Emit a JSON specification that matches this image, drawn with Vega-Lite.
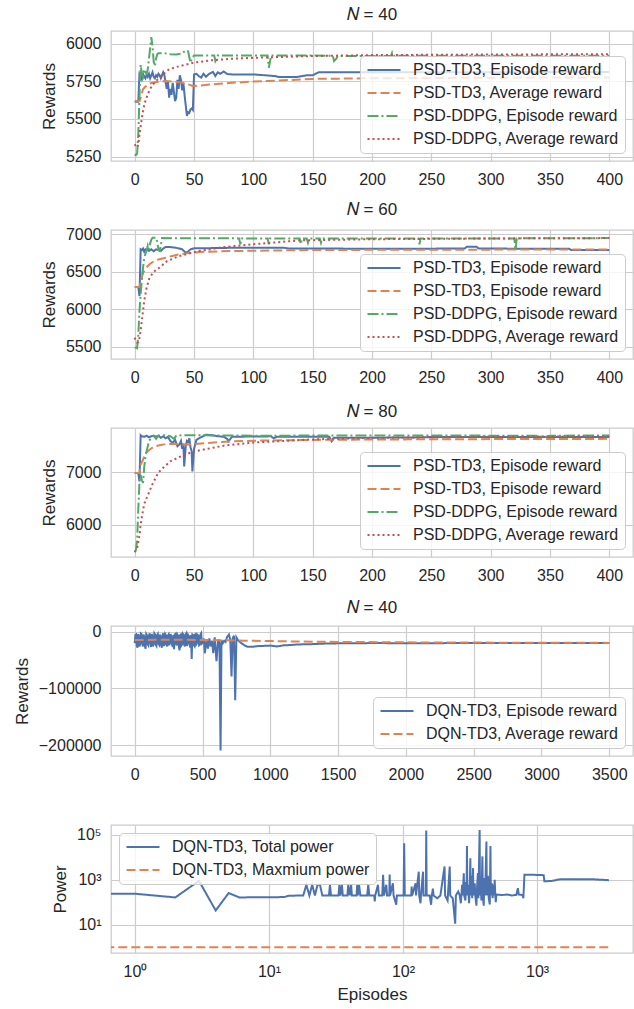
{
  "$schema": "https://vega.github.io/schema/vega-lite/v6.json",
  "padding": {"left": 12, "top": 5, "right": 1, "bottom": 3},
  "background": "white",
  "spacing": 69,
  "bounds": "flush",
  "resolve": {
    "scale": {"x": "independent", "y": "independent", "color": "independent", "strokeDash": "independent"},
    "legend": {"color": "independent", "strokeDash": "independent"}
  },
  "config": {
    "font": "Liberation Sans",
    "view": {"stroke": "#cccccc", "strokeWidth": 1.3},
    "axis": {
      "domain": false, "ticks": false, "grid": true, "gridColor": "#cccccc", "gridWidth": 1.2,
      "labelFont": "Liberation Sans", "labelFontSize": 16, "labelColor": "#262626", "labelFlush": false,
      "titleFont": "Liberation Sans", "titleFontSize": 17, "titleColor": "#262626", "titleFontWeight": "normal",
      "labelPadding": 10, "titlePadding": 7
    },
    "legend": {
      "labelFont": "Liberation Sans", "labelFontSize": 16, "labelColor": "#262626", "labelLimit": 400,
      "symbolType": "M-3,0H3", "symbolSize": 121, "symbolStrokeWidth": 2, "symbolOffset": 10,
      "fillColor": "rgba(255,255,255,0.8)", "strokeColor": "#cccccc", "cornerRadius": 4,
      "padding": 6, "rowPadding": 7, "labelOffset": 21, "offset": 8, "title": null
    },
    "title": {"font": "Liberation Sans", "fontSize": 17, "fontWeight": "normal", "color": "#262626", "offset": 7}
  },
  "datasets": {
    "p1": [
      {"ep":0,"v":5615,"s":"TD3_ep"},{"ep":3,"v":5615,"s":"TD3_ep"},{"ep":4,"v":5800,"s":"TD3_ep"},{"ep":5,"v":5790,"s":"TD3_ep"},{"ep":6,"v":5765,"s":"TD3_ep"},{"ep":7,"v":5800,"s":"TD3_ep"},{"ep":8,"v":5780,"s":"TD3_ep"},{"ep":9,"v":5770,"s":"TD3_ep"},{"ep":10,"v":5795,"s":"TD3_ep"},{"ep":11,"v":5780,"s":"TD3_ep"},{"ep":12,"v":5800,"s":"TD3_ep"},{"ep":13,"v":5770,"s":"TD3_ep"},{"ep":14,"v":5790,"s":"TD3_ep"},{"ep":15,"v":5810,"s":"TD3_ep"},{"ep":16,"v":5780,"s":"TD3_ep"},{"ep":17,"v":5770,"s":"TD3_ep"},{"ep":18,"v":5790,"s":"TD3_ep"},{"ep":19,"v":5780,"s":"TD3_ep"},{"ep":20,"v":5800,"s":"TD3_ep"},{"ep":21,"v":5790,"s":"TD3_ep"},{"ep":22,"v":5770,"s":"TD3_ep"},{"ep":23,"v":5790,"s":"TD3_ep"},{"ep":24,"v":5810,"s":"TD3_ep"},{"ep":25,"v":5790,"s":"TD3_ep"},{"ep":26,"v":5745,"s":"TD3_ep"},{"ep":27,"v":5700,"s":"TD3_ep"},{"ep":28,"v":5750,"s":"TD3_ep"},{"ep":29,"v":5642,"s":"TD3_ep"},{"ep":30,"v":5700,"s":"TD3_ep"},{"ep":31,"v":5660,"s":"TD3_ep"},{"ep":32,"v":5740,"s":"TD3_ep"},{"ep":33,"v":5680,"s":"TD3_ep"},{"ep":34,"v":5619,"s":"TD3_ep"},{"ep":35,"v":5640,"s":"TD3_ep"},{"ep":36,"v":5760,"s":"TD3_ep"},{"ep":37,"v":5700,"s":"TD3_ep"},{"ep":38,"v":5790,"s":"TD3_ep"},{"ep":39,"v":5760,"s":"TD3_ep"},{"ep":40,"v":5690,"s":"TD3_ep"},{"ep":41,"v":5740,"s":"TD3_ep"},{"ep":42,"v":5660,"s":"TD3_ep"},{"ep":43,"v":5590,"s":"TD3_ep"},{"ep":44,"v":5520,"s":"TD3_ep"},{"ep":45,"v":5545,"s":"TD3_ep"},{"ep":46,"v":5540,"s":"TD3_ep"},{"ep":47,"v":5564,"s":"TD3_ep"},{"ep":48,"v":5570,"s":"TD3_ep"},{"ep":49,"v":5560,"s":"TD3_ep"},{"ep":50,"v":5795,"s":"TD3_ep"},{"ep":52,"v":5800,"s":"TD3_ep"},{"ep":54,"v":5785,"s":"TD3_ep"},{"ep":56,"v":5775,"s":"TD3_ep"},{"ep":58,"v":5800,"s":"TD3_ep"},{"ep":60,"v":5780,"s":"TD3_ep"},{"ep":62,"v":5795,"s":"TD3_ep"},{"ep":64,"v":5805,"s":"TD3_ep"},{"ep":66,"v":5812,"s":"TD3_ep"},{"ep":68,"v":5785,"s":"TD3_ep"},{"ep":70,"v":5810,"s":"TD3_ep"},{"ep":72,"v":5800,"s":"TD3_ep"},{"ep":75,"v":5815,"s":"TD3_ep"},{"ep":78,"v":5798,"s":"TD3_ep"},{"ep":82,"v":5796,"s":"TD3_ep"},{"ep":100,"v":5796,"s":"TD3_ep"},{"ep":118,"v":5785,"s":"TD3_ep"},{"ep":121,"v":5779,"s":"TD3_ep"},{"ep":137,"v":5779,"s":"TD3_ep"},{"ep":145,"v":5790,"s":"TD3_ep"},{"ep":150,"v":5790,"s":"TD3_ep"},{"ep":155,"v":5810,"s":"TD3_ep"},{"ep":250,"v":5810,"s":"TD3_ep"},{"ep":400,"v":5812,"s":"TD3_ep"},
      {"ep":0,"v":5619,"s":"TD3_avg"},{"ep":4,"v":5619,"s":"TD3_avg"},{"ep":5,"v":5640,"s":"TD3_avg"},{"ep":6,"v":5670,"s":"TD3_avg"},{"ep":7,"v":5697,"s":"TD3_avg"},{"ep":9,"v":5715,"s":"TD3_avg"},{"ep":12.5,"v":5735,"s":"TD3_avg"},{"ep":16,"v":5742,"s":"TD3_avg"},{"ep":20,"v":5747,"s":"TD3_avg"},{"ep":26,"v":5752,"s":"TD3_avg"},{"ep":33,"v":5748,"s":"TD3_avg"},{"ep":40,"v":5741,"s":"TD3_avg"},{"ep":45,"v":5730,"s":"TD3_avg"},{"ep":49,"v":5719,"s":"TD3_avg"},{"ep":55,"v":5722,"s":"TD3_avg"},{"ep":65,"v":5730,"s":"TD3_avg"},{"ep":82,"v":5740,"s":"TD3_avg"},{"ep":100,"v":5748,"s":"TD3_avg"},{"ep":120,"v":5755,"s":"TD3_avg"},{"ep":150,"v":5766,"s":"TD3_avg"},{"ep":200,"v":5770,"s":"TD3_avg"},{"ep":250,"v":5772,"s":"TD3_avg"},{"ep":300,"v":5774,"s":"TD3_avg"},{"ep":350,"v":5775,"s":"TD3_avg"},{"ep":400,"v":5776,"s":"TD3_avg"},
      {"ep":0,"v":5265,"s":"DDPG_ep"},{"ep":1,"v":5260,"s":"DDPG_ep"},{"ep":2,"v":5270,"s":"DDPG_ep"},{"ep":3,"v":5400,"s":"DDPG_ep"},{"ep":4,"v":5650,"s":"DDPG_ep"},{"ep":5,"v":5860,"s":"DDPG_ep"},{"ep":6,"v":5800,"s":"DDPG_ep"},{"ep":7,"v":5780,"s":"DDPG_ep"},{"ep":8,"v":5830,"s":"DDPG_ep"},{"ep":9,"v":5810,"s":"DDPG_ep"},{"ep":10,"v":5800,"s":"DDPG_ep"},{"ep":11,"v":5830,"s":"DDPG_ep"},{"ep":12,"v":5900,"s":"DDPG_ep"},{"ep":13,"v":5970,"s":"DDPG_ep"},{"ep":14,"v":6044,"s":"DDPG_ep"},{"ep":15,"v":5980,"s":"DDPG_ep"},{"ep":16,"v":5880,"s":"DDPG_ep"},{"ep":17,"v":5850,"s":"DDPG_ep"},{"ep":18,"v":5900,"s":"DDPG_ep"},{"ep":19,"v":5930,"s":"DDPG_ep"},{"ep":20,"v":5936,"s":"DDPG_ep"},{"ep":25,"v":5936,"s":"DDPG_ep"},{"ep":30,"v":5930,"s":"DDPG_ep"},{"ep":35,"v":5928,"s":"DDPG_ep"},{"ep":40,"v":5935,"s":"DDPG_ep"},{"ep":43,"v":5956,"s":"DDPG_ep"},{"ep":45,"v":5950,"s":"DDPG_ep"},{"ep":46,"v":5910,"s":"DDPG_ep"},{"ep":47,"v":5874,"s":"DDPG_ep"},{"ep":48,"v":5900,"s":"DDPG_ep"},{"ep":50,"v":5922,"s":"DDPG_ep"},{"ep":67,"v":5922,"s":"DDPG_ep"},{"ep":68,"v":5885,"s":"DDPG_ep"},{"ep":69,"v":5900,"s":"DDPG_ep"},{"ep":70,"v":5922,"s":"DDPG_ep"},{"ep":112,"v":5922,"s":"DDPG_ep"},{"ep":113,"v":5840,"s":"DDPG_ep"},{"ep":114,"v":5880,"s":"DDPG_ep"},{"ep":115,"v":5922,"s":"DDPG_ep"},{"ep":167,"v":5920,"s":"DDPG_ep"},{"ep":168,"v":5885,"s":"DDPG_ep"},{"ep":170,"v":5900,"s":"DDPG_ep"},{"ep":171,"v":5918,"s":"DDPG_ep"},{"ep":216,"v":5918,"s":"DDPG_ep"},{"ep":217,"v":5940,"s":"DDPG_ep"},{"ep":218,"v":5920,"s":"DDPG_ep"},{"ep":400,"v":5920,"s":"DDPG_ep"},
      {"ep":0,"v":5332,"s":"DDPG_avg"},{"ep":1,"v":5320,"s":"DDPG_avg"},{"ep":2,"v":5310,"s":"DDPG_avg"},{"ep":3,"v":5330,"s":"DDPG_avg"},{"ep":4,"v":5398,"s":"DDPG_avg"},{"ep":5,"v":5450,"s":"DDPG_avg"},{"ep":6,"v":5505,"s":"DDPG_avg"},{"ep":7,"v":5553,"s":"DDPG_avg"},{"ep":8,"v":5590,"s":"DDPG_avg"},{"ep":9,"v":5620,"s":"DDPG_avg"},{"ep":11,"v":5664,"s":"DDPG_avg"},{"ep":13,"v":5700,"s":"DDPG_avg"},{"ep":15,"v":5725,"s":"DDPG_avg"},{"ep":18,"v":5752,"s":"DDPG_avg"},{"ep":22,"v":5785,"s":"DDPG_avg"},{"ep":29,"v":5830,"s":"DDPG_avg"},{"ep":35,"v":5845,"s":"DDPG_avg"},{"ep":40,"v":5855,"s":"DDPG_avg"},{"ep":50,"v":5874,"s":"DDPG_avg"},{"ep":65,"v":5890,"s":"DDPG_avg"},{"ep":82,"v":5900,"s":"DDPG_avg"},{"ep":100,"v":5906,"s":"DDPG_avg"},{"ep":150,"v":5918,"s":"DDPG_avg"},{"ep":200,"v":5924,"s":"DDPG_avg"},{"ep":300,"v":5928,"s":"DDPG_avg"},{"ep":400,"v":5930,"s":"DDPG_avg"}
    ],
    "p2": [
      {"ep":0,"v":6297,"s":"TD3_ep"},{"ep":3,"v":6297,"s":"TD3_ep"},{"ep":4,"v":6177,"s":"TD3_ep"},{"ep":5,"v":6800,"s":"TD3_ep"},{"ep":6,"v":6790,"s":"TD3_ep"},{"ep":7,"v":6810,"s":"TD3_ep"},{"ep":8,"v":6770,"s":"TD3_ep"},{"ep":9,"v":6800,"s":"TD3_ep"},{"ep":10,"v":6790,"s":"TD3_ep"},{"ep":11,"v":6810,"s":"TD3_ep"},{"ep":12,"v":6780,"s":"TD3_ep"},{"ep":14,"v":6800,"s":"TD3_ep"},{"ep":16,"v":6775,"s":"TD3_ep"},{"ep":18,"v":6800,"s":"TD3_ep"},{"ep":20,"v":6790,"s":"TD3_ep"},{"ep":22,"v":6780,"s":"TD3_ep"},{"ep":24,"v":6810,"s":"TD3_ep"},{"ep":26,"v":6831,"s":"TD3_ep"},{"ep":30,"v":6830,"s":"TD3_ep"},{"ep":35,"v":6820,"s":"TD3_ep"},{"ep":40,"v":6800,"s":"TD3_ep"},{"ep":43,"v":6755,"s":"TD3_ep"},{"ep":45,"v":6770,"s":"TD3_ep"},{"ep":47,"v":6800,"s":"TD3_ep"},{"ep":50,"v":6813,"s":"TD3_ep"},{"ep":60,"v":6815,"s":"TD3_ep"},{"ep":80,"v":6820,"s":"TD3_ep"},{"ep":125,"v":6822,"s":"TD3_ep"},{"ep":130,"v":6812,"s":"TD3_ep"},{"ep":200,"v":6808,"s":"TD3_ep"},{"ep":278,"v":6810,"s":"TD3_ep"},{"ep":280,"v":6834,"s":"TD3_ep"},{"ep":288,"v":6834,"s":"TD3_ep"},{"ep":290,"v":6810,"s":"TD3_ep"},{"ep":366,"v":6808,"s":"TD3_ep"},{"ep":368,"v":6790,"s":"TD3_ep"},{"ep":400,"v":6790,"s":"TD3_ep"},
      {"ep":0,"v":6297,"s":"TD3_avg"},{"ep":4,"v":6297,"s":"TD3_avg"},{"ep":5,"v":6370,"s":"TD3_avg"},{"ep":7,"v":6488,"s":"TD3_avg"},{"ep":10,"v":6560,"s":"TD3_avg"},{"ep":12.5,"v":6600,"s":"TD3_avg"},{"ep":16,"v":6640,"s":"TD3_avg"},{"ep":20,"v":6665,"s":"TD3_avg"},{"ep":26,"v":6688,"s":"TD3_avg"},{"ep":35,"v":6725,"s":"TD3_avg"},{"ep":43,"v":6746,"s":"TD3_avg"},{"ep":54,"v":6764,"s":"TD3_avg"},{"ep":82,"v":6777,"s":"TD3_avg"},{"ep":150,"v":6791,"s":"TD3_avg"},{"ep":250,"v":6795,"s":"TD3_avg"},{"ep":400,"v":6798,"s":"TD3_avg"},
      {"ep":0,"v":5490,"s":"DDPG_ep"},{"ep":1,"v":5487,"s":"DDPG_ep"},{"ep":2,"v":5480,"s":"DDPG_ep"},{"ep":3,"v":5650,"s":"DDPG_ep"},{"ep":4,"v":5977,"s":"DDPG_ep"},{"ep":5,"v":6200,"s":"DDPG_ep"},{"ep":6,"v":6400,"s":"DDPG_ep"},{"ep":7,"v":6555,"s":"DDPG_ep"},{"ep":8,"v":6680,"s":"DDPG_ep"},{"ep":9,"v":6740,"s":"DDPG_ep"},{"ep":10,"v":6777,"s":"DDPG_ep"},{"ep":11,"v":6850,"s":"DDPG_ep"},{"ep":12,"v":6800,"s":"DDPG_ep"},{"ep":13,"v":6880,"s":"DDPG_ep"},{"ep":14,"v":6930,"s":"DDPG_ep"},{"ep":15,"v":6955,"s":"DDPG_ep"},{"ep":18,"v":6955,"s":"DDPG_ep"},{"ep":19,"v":6900,"s":"DDPG_ep"},{"ep":20,"v":6790,"s":"DDPG_ep"},{"ep":21,"v":6777,"s":"DDPG_ep"},{"ep":22,"v":6850,"s":"DDPG_ep"},{"ep":23,"v":6950,"s":"DDPG_ep"},{"ep":88,"v":6946,"s":"DDPG_ep"},{"ep":89,"v":6866,"s":"DDPG_ep"},{"ep":90,"v":6946,"s":"DDPG_ep"},{"ep":112,"v":6946,"s":"DDPG_ep"},{"ep":113,"v":6866,"s":"DDPG_ep"},{"ep":114,"v":6946,"s":"DDPG_ep"},{"ep":139,"v":6946,"s":"DDPG_ep"},{"ep":140,"v":6870,"s":"DDPG_ep"},{"ep":141,"v":6946,"s":"DDPG_ep"},{"ep":145,"v":6946,"s":"DDPG_ep"},{"ep":146,"v":6888,"s":"DDPG_ep"},{"ep":147,"v":6946,"s":"DDPG_ep"},{"ep":156,"v":6946,"s":"DDPG_ep"},{"ep":157,"v":6888,"s":"DDPG_ep"},{"ep":158,"v":6946,"s":"DDPG_ep"},{"ep":239,"v":6946,"s":"DDPG_ep"},{"ep":240,"v":6866,"s":"DDPG_ep"},{"ep":241,"v":6946,"s":"DDPG_ep"},{"ep":320,"v":6946,"s":"DDPG_ep"},{"ep":321,"v":6790,"s":"DDPG_ep"},{"ep":322,"v":6946,"s":"DDPG_ep"},{"ep":400,"v":6950,"s":"DDPG_ep"},
      {"ep":0,"v":5620,"s":"DDPG_avg"},{"ep":1,"v":5580,"s":"DDPG_avg"},{"ep":2,"v":5555,"s":"DDPG_avg"},{"ep":3,"v":5560,"s":"DDPG_avg"},{"ep":4,"v":5620,"s":"DDPG_avg"},{"ep":5,"v":5709,"s":"DDPG_avg"},{"ep":6,"v":5850,"s":"DDPG_avg"},{"ep":7,"v":5980,"s":"DDPG_avg"},{"ep":8,"v":6110,"s":"DDPG_avg"},{"ep":10,"v":6288,"s":"DDPG_avg"},{"ep":12.5,"v":6421,"s":"DDPG_avg"},{"ep":16,"v":6500,"s":"DDPG_avg"},{"ep":20.8,"v":6555,"s":"DDPG_avg"},{"ep":27,"v":6640,"s":"DDPG_avg"},{"ep":37.5,"v":6711,"s":"DDPG_avg"},{"ep":54,"v":6777,"s":"DDPG_avg"},{"ep":75,"v":6830,"s":"DDPG_avg"},{"ep":98.6,"v":6866,"s":"DDPG_avg"},{"ep":139,"v":6920,"s":"DDPG_avg"},{"ep":200,"v":6935,"s":"DDPG_avg"},{"ep":300,"v":6945,"s":"DDPG_avg"},{"ep":400,"v":6950,"s":"DDPG_avg"}
    ],
    "p3": [
      {"ep":0,"v":6987,"s":"TD3_ep"},{"ep":3,"v":6987,"s":"TD3_ep"},{"ep":4,"v":6828,"s":"TD3_ep"},{"ep":5,"v":7710,"s":"TD3_ep"},{"ep":6,"v":7690,"s":"TD3_ep"},{"ep":8,"v":7680,"s":"TD3_ep"},{"ep":10,"v":7700,"s":"TD3_ep"},{"ep":12,"v":7670,"s":"TD3_ep"},{"ep":14,"v":7690,"s":"TD3_ep"},{"ep":16,"v":7700,"s":"TD3_ep"},{"ep":18,"v":7680,"s":"TD3_ep"},{"ep":20,"v":7700,"s":"TD3_ep"},{"ep":22,"v":7660,"s":"TD3_ep"},{"ep":24,"v":7690,"s":"TD3_ep"},{"ep":26,"v":7650,"s":"TD3_ep"},{"ep":28,"v":7680,"s":"TD3_ep"},{"ep":30,"v":7600,"s":"TD3_ep"},{"ep":32,"v":7560,"s":"TD3_ep"},{"ep":34,"v":7620,"s":"TD3_ep"},{"ep":36,"v":7500,"s":"TD3_ep"},{"ep":37.5,"v":7529,"s":"TD3_ep"},{"ep":39,"v":7600,"s":"TD3_ep"},{"ep":40,"v":7450,"s":"TD3_ep"},{"ep":41,"v":7550,"s":"TD3_ep"},{"ep":41.7,"v":7115,"s":"TD3_ep"},{"ep":43,"v":7500,"s":"TD3_ep"},{"ep":44,"v":7600,"s":"TD3_ep"},{"ep":45,"v":7580,"s":"TD3_ep"},{"ep":46,"v":7650,"s":"TD3_ep"},{"ep":47,"v":7480,"s":"TD3_ep"},{"ep":48,"v":7400,"s":"TD3_ep"},{"ep":48.6,"v":7019,"s":"TD3_ep"},{"ep":50,"v":7450,"s":"TD3_ep"},{"ep":52,"v":7620,"s":"TD3_ep"},{"ep":55,"v":7660,"s":"TD3_ep"},{"ep":60,"v":7720,"s":"TD3_ep"},{"ep":65,"v":7710,"s":"TD3_ep"},{"ep":70,"v":7690,"s":"TD3_ep"},{"ep":75,"v":7680,"s":"TD3_ep"},{"ep":78,"v":7640,"s":"TD3_ep"},{"ep":79,"v":7592,"s":"TD3_ep"},{"ep":82,"v":7680,"s":"TD3_ep"},{"ep":115,"v":7688,"s":"TD3_ep"},{"ep":117,"v":7650,"s":"TD3_ep"},{"ep":120,"v":7680,"s":"TD3_ep"},{"ep":164,"v":7680,"s":"TD3_ep"},{"ep":166,"v":7595,"s":"TD3_ep"},{"ep":168,"v":7660,"s":"TD3_ep"},{"ep":230,"v":7665,"s":"TD3_ep"},{"ep":250,"v":7675,"s":"TD3_ep"},{"ep":400,"v":7675,"s":"TD3_ep"},
      {"ep":0,"v":6987,"s":"TD3_avg"},{"ep":4,"v":6987,"s":"TD3_avg"},{"ep":5,"v":7150,"s":"TD3_avg"},{"ep":7,"v":7242,"s":"TD3_avg"},{"ep":9,"v":7360,"s":"TD3_avg"},{"ep":12.5,"v":7433,"s":"TD3_avg"},{"ep":16,"v":7490,"s":"TD3_avg"},{"ep":20,"v":7515,"s":"TD3_avg"},{"ep":26,"v":7541,"s":"TD3_avg"},{"ep":35,"v":7540,"s":"TD3_avg"},{"ep":43,"v":7528,"s":"TD3_avg"},{"ep":50,"v":7540,"s":"TD3_avg"},{"ep":60,"v":7560,"s":"TD3_avg"},{"ep":80,"v":7590,"s":"TD3_avg"},{"ep":100,"v":7605,"s":"TD3_avg"},{"ep":150,"v":7620,"s":"TD3_avg"},{"ep":200,"v":7628,"s":"TD3_avg"},{"ep":300,"v":7635,"s":"TD3_avg"},{"ep":400,"v":7640,"s":"TD3_avg"},
      {"ep":0,"v":5503,"s":"DDPG_ep"},{"ep":1,"v":5520,"s":"DDPG_ep"},{"ep":2,"v":5700,"s":"DDPG_ep"},{"ep":3,"v":6300,"s":"DDPG_ep"},{"ep":4,"v":6828,"s":"DDPG_ep"},{"ep":5,"v":6950,"s":"DDPG_ep"},{"ep":6,"v":6850,"s":"DDPG_ep"},{"ep":7,"v":6800,"s":"DDPG_ep"},{"ep":8,"v":7100,"s":"DDPG_ep"},{"ep":9,"v":7300,"s":"DDPG_ep"},{"ep":10,"v":7401,"s":"DDPG_ep"},{"ep":12,"v":7600,"s":"DDPG_ep"},{"ep":14,"v":7656,"s":"DDPG_ep"},{"ep":16,"v":7700,"s":"DDPG_ep"},{"ep":18,"v":7640,"s":"DDPG_ep"},{"ep":20,"v":7700,"s":"DDPG_ep"},{"ep":25,"v":7710,"s":"DDPG_ep"},{"ep":30,"v":7690,"s":"DDPG_ep"},{"ep":33,"v":7640,"s":"DDPG_ep"},{"ep":35,"v":7700,"s":"DDPG_ep"},{"ep":40,"v":7710,"s":"DDPG_ep"},{"ep":100,"v":7700,"s":"DDPG_ep"},{"ep":200,"v":7705,"s":"DDPG_ep"},{"ep":340,"v":7700,"s":"DDPG_ep"},{"ep":345,"v":7670,"s":"DDPG_ep"},{"ep":350,"v":7700,"s":"DDPG_ep"},{"ep":400,"v":7705,"s":"DDPG_ep"},
      {"ep":0,"v":5480,"s":"DDPG_avg"},{"ep":2,"v":5550,"s":"DDPG_avg"},{"ep":4,"v":5800,"s":"DDPG_avg"},{"ep":5,"v":6000,"s":"DDPG_avg"},{"ep":6,"v":6150,"s":"DDPG_avg"},{"ep":8,"v":6400,"s":"DDPG_avg"},{"ep":10,"v":6510,"s":"DDPG_avg"},{"ep":15,"v":6780,"s":"DDPG_avg"},{"ep":20,"v":7000,"s":"DDPG_avg"},{"ep":25,"v":7110,"s":"DDPG_avg"},{"ep":30,"v":7210,"s":"DDPG_avg"},{"ep":40,"v":7320,"s":"DDPG_avg"},{"ep":50,"v":7401,"s":"DDPG_avg"},{"ep":75,"v":7510,"s":"DDPG_avg"},{"ep":100,"v":7570,"s":"DDPG_avg"},{"ep":150,"v":7630,"s":"DDPG_avg"},{"ep":200,"v":7660,"s":"DDPG_avg"},{"ep":300,"v":7680,"s":"DDPG_avg"},{"ep":400,"v":7688,"s":"DDPG_avg"}
    ],
    "p4": [
      {"ep":0,"v":-20000,"s":"ep"},{"ep":5,"v":-6000,"s":"ep"},{"ep":10,"v":-5000,"s":"ep"},{"ep":15,"v":-24000,"s":"ep"},{"ep":20,"v":-28000,"s":"ep"},{"ep":25,"v":-4000,"s":"ep"},{"ep":30,"v":-8000,"s":"ep"},{"ep":35,"v":-26000,"s":"ep"},{"ep":40,"v":-22000,"s":"ep"},{"ep":45,"v":-3000,"s":"ep"},{"ep":50,"v":-4000,"s":"ep"},{"ep":55,"v":-20000,"s":"ep"},{"ep":60,"v":-26000,"s":"ep"},{"ep":65,"v":-5000,"s":"ep"},{"ep":70,"v":-9000,"s":"ep"},{"ep":75,"v":-25000,"s":"ep"},{"ep":80,"v":-30000,"s":"ep"},{"ep":85,"v":-4000,"s":"ep"},{"ep":90,"v":-6000,"s":"ep"},{"ep":95,"v":-22000,"s":"ep"},{"ep":100,"v":-24000,"s":"ep"},{"ep":105,"v":-7000,"s":"ep"},{"ep":110,"v":-3000,"s":"ep"},{"ep":115,"v":-19000,"s":"ep"},{"ep":120,"v":-27000,"s":"ep"},{"ep":125,"v":-4000,"s":"ep"},{"ep":130,"v":-7000,"s":"ep"},{"ep":135,"v":-26000,"s":"ep"},{"ep":140,"v":-21000,"s":"ep"},{"ep":145,"v":-3000,"s":"ep"},{"ep":150,"v":-5000,"s":"ep"},{"ep":155,"v":-23000,"s":"ep"},{"ep":160,"v":-25000,"s":"ep"},{"ep":165,"v":-6000,"s":"ep"},{"ep":170,"v":-4000,"s":"ep"},{"ep":175,"v":-21000,"s":"ep"},{"ep":180,"v":-23000,"s":"ep"},{"ep":185,"v":-5000,"s":"ep"},{"ep":190,"v":-8000,"s":"ep"},{"ep":195,"v":-24000,"s":"ep"},{"ep":200,"v":-28000,"s":"ep"},{"ep":205,"v":-6000,"s":"ep"},{"ep":210,"v":-3000,"s":"ep"},{"ep":215,"v":-25000,"s":"ep"},{"ep":220,"v":-22000,"s":"ep"},{"ep":225,"v":-4000,"s":"ep"},{"ep":230,"v":-6000,"s":"ep"},{"ep":235,"v":-23000,"s":"ep"},{"ep":240,"v":-26000,"s":"ep"},{"ep":245,"v":-7000,"s":"ep"},{"ep":250,"v":-5000,"s":"ep"},{"ep":255,"v":-24000,"s":"ep"},{"ep":260,"v":-20000,"s":"ep"},{"ep":265,"v":-4000,"s":"ep"},{"ep":270,"v":-9000,"s":"ep"},{"ep":275,"v":-22000,"s":"ep"},{"ep":280,"v":-27000,"s":"ep"},{"ep":285,"v":-6000,"s":"ep"},{"ep":290,"v":-31000,"s":"ep"},{"ep":295,"v":-5000,"s":"ep"},{"ep":300,"v":-4000,"s":"ep"},{"ep":305,"v":-21000,"s":"ep"},{"ep":310,"v":-24000,"s":"ep"},{"ep":315,"v":-5000,"s":"ep"},{"ep":320,"v":-7000,"s":"ep"},{"ep":325,"v":-25000,"s":"ep"},{"ep":330,"v":-33000,"s":"ep"},{"ep":335,"v":-6000,"s":"ep"},{"ep":340,"v":-5000,"s":"ep"},{"ep":345,"v":-24000,"s":"ep"},{"ep":350,"v":-22000,"s":"ep"},{"ep":355,"v":-4000,"s":"ep"},{"ep":360,"v":-6000,"s":"ep"},{"ep":365,"v":-23000,"s":"ep"},{"ep":370,"v":-26000,"s":"ep"},{"ep":375,"v":-5000,"s":"ep"},{"ep":380,"v":-3000,"s":"ep"},{"ep":385,"v":-25000,"s":"ep"},{"ep":390,"v":-21000,"s":"ep"},{"ep":395,"v":-6000,"s":"ep"},{"ep":400,"v":-8000,"s":"ep"},{"ep":405,"v":-22000,"s":"ep"},{"ep":410,"v":-28000,"s":"ep"},{"ep":415,"v":-6000,"s":"ep"},{"ep":420,"v":-48000,"s":"ep"},{"ep":425,"v":-5000,"s":"ep"},{"ep":430,"v":-6000,"s":"ep"},{"ep":435,"v":-23000,"s":"ep"},{"ep":440,"v":-25000,"s":"ep"},{"ep":445,"v":-5000,"s":"ep"},{"ep":450,"v":-4000,"s":"ep"},{"ep":455,"v":-22000,"s":"ep"},{"ep":460,"v":-20000,"s":"ep"},{"ep":465,"v":-6000,"s":"ep"},{"ep":470,"v":-7000,"s":"ep"},{"ep":475,"v":-24000,"s":"ep"},{"ep":480,"v":-23000,"s":"ep"},{"ep":485,"v":-5000,"s":"ep"},{"ep":490,"v":-3000,"s":"ep"},{"ep":495,"v":-21000,"s":"ep"},{"ep":500,"v":-20000,"s":"ep"},{"ep":510,"v":-12000,"s":"ep"},{"ep":517,"v":-38000,"s":"ep"},{"ep":530,"v":-14000,"s":"ep"},{"ep":540,"v":-30000,"s":"ep"},{"ep":550,"v":-12000,"s":"ep"},{"ep":560,"v":-26000,"s":"ep"},{"ep":570,"v":-16000,"s":"ep"},{"ep":579,"v":-38000,"s":"ep"},{"ep":590,"v":-10000,"s":"ep"},{"ep":603,"v":-52000,"s":"ep"},{"ep":615,"v":-14000,"s":"ep"},{"ep":625,"v":-20000,"s":"ep"},{"ep":633,"v":-209000,"s":"ep"},{"ep":640,"v":-15000,"s":"ep"},{"ep":650,"v":-20000,"s":"ep"},{"ep":660,"v":-16000,"s":"ep"},{"ep":670,"v":-18000,"s":"ep"},{"ep":680,"v":-10000,"s":"ep"},{"ep":695,"v":-5000,"s":"ep"},{"ep":705,"v":-15000,"s":"ep"},{"ep":714,"v":-79000,"s":"ep"},{"ep":722,"v":-12000,"s":"ep"},{"ep":732,"v":-7000,"s":"ep"},{"ep":741,"v":-120600,"s":"ep"},{"ep":750,"v":-10000,"s":"ep"},{"ep":762,"v":-15000,"s":"ep"},{"ep":780,"v":-19000,"s":"ep"},{"ep":810,"v":-24000,"s":"ep"},{"ep":830,"v":-26500,"s":"ep"},{"ep":870,"v":-26500,"s":"ep"},{"ep":900,"v":-25500,"s":"ep"},{"ep":950,"v":-25000,"s":"ep"},{"ep":1000,"v":-24500,"s":"ep"},{"ep":1050,"v":-26000,"s":"ep"},{"ep":1100,"v":-24000,"s":"ep"},{"ep":1150,"v":-23500,"s":"ep"},{"ep":1200,"v":-22500,"s":"ep"},{"ep":1300,"v":-22000,"s":"ep"},{"ep":1400,"v":-21000,"s":"ep"},{"ep":1500,"v":-20500,"s":"ep"},{"ep":1800,"v":-20000,"s":"ep"},{"ep":2000,"v":-20500,"s":"ep"},{"ep":2250,"v":-20500,"s":"ep"},{"ep":2300,"v":-20000,"s":"ep"},{"ep":3500,"v":-20000,"s":"ep"},
      {"ep":0,"v":-14500,"s":"avg"},{"ep":100,"v":-14500,"s":"avg"},{"ep":300,"v":-14200,"s":"avg"},{"ep":500,"v":-14500,"s":"avg"},{"ep":600,"v":-15000,"s":"avg"},{"ep":700,"v":-15200,"s":"avg"},{"ep":800,"v":-15800,"s":"avg"},{"ep":1000,"v":-16500,"s":"avg"},{"ep":1200,"v":-17300,"s":"avg"},{"ep":1500,"v":-18000,"s":"avg"},{"ep":2000,"v":-18800,"s":"avg"},{"ep":2500,"v":-19200,"s":"avg"},{"ep":3000,"v":-19500,"s":"avg"},{"ep":3500,"v":-19700,"s":"avg"}
    ],
    "p5": [
      {"ep":0.6,"v":239,"s":"tot"},{"ep":1,"v":239,"s":"tot"},{"ep":2,"v":164,"s":"tot"},{"ep":3,"v":900,"s":"tot"},{"ep":4,"v":43,"s":"tot"},{"ep":5,"v":257,"s":"tot"},{"ep":6,"v":164,"s":"tot"},{"ep":8,"v":166,"s":"tot"},{"ep":10,"v":167,"s":"tot"},{"ep":13,"v":170,"s":"tot"},{"ep":14,"v":195,"s":"tot"},{"ep":18,"v":200,"s":"tot"},{"ep":19,"v":600,"s":"tot"},{"ep":20,"v":200,"s":"tot"},{"ep":21,"v":600,"s":"tot"},{"ep":22,"v":200,"s":"tot"},{"ep":23,"v":600,"s":"tot"},{"ep":24,"v":600,"s":"tot"},{"ep":25,"v":200,"s":"tot"},{"ep":28,"v":200,"s":"tot"},{"ep":28.5,"v":600,"s":"tot"},{"ep":29,"v":200,"s":"tot"},{"ep":33,"v":200,"s":"tot"},{"ep":33.5,"v":600,"s":"tot"},{"ep":34,"v":200,"s":"tot"},{"ep":35,"v":600,"s":"tot"},{"ep":35.5,"v":200,"s":"tot"},{"ep":38.5,"v":200,"s":"tot"},{"ep":39,"v":600,"s":"tot"},{"ep":40,"v":200,"s":"tot"},{"ep":41,"v":600,"s":"tot"},{"ep":41.5,"v":200,"s":"tot"},{"ep":45,"v":200,"s":"tot"},{"ep":45.5,"v":600,"s":"tot"},{"ep":46,"v":200,"s":"tot"},{"ep":47,"v":600,"s":"tot"},{"ep":48,"v":200,"s":"tot"},{"ep":54,"v":200,"s":"tot"},{"ep":55,"v":600,"s":"tot"},{"ep":56,"v":200,"s":"tot"},{"ep":61,"v":200,"s":"tot"},{"ep":61.5,"v":110,"s":"tot"},{"ep":62,"v":200,"s":"tot"},{"ep":65,"v":600,"s":"tot"},{"ep":66,"v":200,"s":"tot"},{"ep":70,"v":200,"s":"tot"},{"ep":71,"v":1660,"s":"tot"},{"ep":72,"v":200,"s":"tot"},{"ep":75,"v":600,"s":"tot"},{"ep":76,"v":200,"s":"tot"},{"ep":79,"v":200,"s":"tot"},{"ep":79.5,"v":1700,"s":"tot"},{"ep":80,"v":200,"s":"tot"},{"ep":84,"v":700,"s":"tot"},{"ep":85,"v":200,"s":"tot"},{"ep":89,"v":77,"s":"tot"},{"ep":90,"v":200,"s":"tot"},{"ep":101,"v":200,"s":"tot"},{"ep":102,"v":42000,"s":"tot"},{"ep":103,"v":200,"s":"tot"},{"ep":115,"v":200,"s":"tot"},{"ep":116,"v":500,"s":"tot"},{"ep":117,"v":200,"s":"tot"},{"ep":124,"v":700,"s":"tot"},{"ep":125,"v":200,"s":"tot"},{"ep":131,"v":2300,"s":"tot"},{"ep":132,"v":200,"s":"tot"},{"ep":135,"v":90,"s":"tot"},{"ep":136,"v":200,"s":"tot"},{"ep":141,"v":2300,"s":"tot"},{"ep":142,"v":200,"s":"tot"},{"ep":148,"v":200,"s":"tot"},{"ep":149,"v":156000,"s":"tot"},{"ep":150,"v":200,"s":"tot"},{"ep":158,"v":200,"s":"tot"},{"ep":162,"v":77,"s":"tot"},{"ep":164,"v":200,"s":"tot"},{"ep":167,"v":400,"s":"tot"},{"ep":169,"v":200,"s":"tot"},{"ep":180,"v":150,"s":"tot"},{"ep":190,"v":200,"s":"tot"},{"ep":204,"v":3900,"s":"tot"},{"ep":206,"v":200,"s":"tot"},{"ep":215,"v":120,"s":"tot"},{"ep":223,"v":3900,"s":"tot"},{"ep":225,"v":200,"s":"tot"},{"ep":235,"v":150,"s":"tot"},{"ep":245,"v":11,"s":"tot"},{"ep":248,"v":200,"s":"tot"},{"ep":258,"v":300,"s":"tot"},{"ep":265,"v":200,"s":"tot"},{"ep":270,"v":90,"s":"tot"},{"ep":276,"v":600,"s":"tot"},{"ep":279,"v":200,"s":"tot"},{"ep":284,"v":1950,"s":"tot"},{"ep":286,"v":200,"s":"tot"},{"ep":292,"v":120,"s":"tot"},{"ep":295,"v":800,"s":"tot"},{"ep":298,"v":200,"s":"tot"},{"ep":300,"v":32000,"s":"tot"},{"ep":302,"v":200,"s":"tot"},{"ep":306,"v":600,"s":"tot"},{"ep":311,"v":90,"s":"tot"},{"ep":314,"v":300,"s":"tot"},{"ep":318,"v":9000,"s":"tot"},{"ep":320,"v":200,"s":"tot"},{"ep":326,"v":1500,"s":"tot"},{"ep":328,"v":150,"s":"tot"},{"ep":333,"v":3300,"s":"tot"},{"ep":335,"v":200,"s":"tot"},{"ep":343,"v":700,"s":"tot"},{"ep":346,"v":200,"s":"tot"},{"ep":353,"v":70,"s":"tot"},{"ep":357,"v":500,"s":"tot"},{"ep":362,"v":2000,"s":"tot"},{"ep":365,"v":150,"s":"tot"},{"ep":373,"v":166000,"s":"tot"},{"ep":375,"v":200,"s":"tot"},{"ep":380,"v":900,"s":"tot"},{"ep":384,"v":120,"s":"tot"},{"ep":391,"v":11000,"s":"tot"},{"ep":394,"v":200,"s":"tot"},{"ep":400,"v":70,"s":"tot"},{"ep":405,"v":1200,"s":"tot"},{"ep":410,"v":200,"s":"tot"},{"ep":419,"v":50000,"s":"tot"},{"ep":422,"v":200,"s":"tot"},{"ep":430,"v":1500,"s":"tot"},{"ep":436,"v":150,"s":"tot"},{"ep":444,"v":80,"s":"tot"},{"ep":449,"v":32000,"s":"tot"},{"ep":452,"v":200,"s":"tot"},{"ep":460,"v":700,"s":"tot"},{"ep":466,"v":150,"s":"tot"},{"ep":472,"v":600,"s":"tot"},{"ep":478,"v":200,"s":"tot"},{"ep":483,"v":1000,"s":"tot"},{"ep":488,"v":200,"s":"tot"},{"ep":492,"v":100,"s":"tot"},{"ep":497,"v":220,"s":"tot"},{"ep":550,"v":210,"s":"tot"},{"ep":600,"v":220,"s":"tot"},{"ep":650,"v":200,"s":"tot"},{"ep":700,"v":215,"s":"tot"},{"ep":720,"v":420,"s":"tot"},{"ep":730,"v":220,"s":"tot"},{"ep":780,"v":210,"s":"tot"},{"ep":790,"v":150,"s":"tot"},{"ep":798,"v":500,"s":"tot"},{"ep":805,"v":1670,"s":"tot"},{"ep":900,"v":1670,"s":"tot"},{"ep":1000,"v":1650,"s":"tot"},{"ep":1120,"v":1600,"s":"tot"},{"ep":1135,"v":850,"s":"tot"},{"ep":1300,"v":900,"s":"tot"},{"ep":1500,"v":1070,"s":"tot"},{"ep":2500,"v":1070,"s":"tot"},{"ep":3440,"v":960,"s":"tot"},
      {"ep":0.6,"v":1,"s":"max"},{"ep":3500,"v":1,"s":"max"}
    ]
  },
  "vconcat": [
    {
      "width": 522, "height": 130,
      "title": {"text": "𝑁 = 40"},
      "data": {"name": "p1"},
      "mark": {"type": "line", "strokeWidth": 2, "clip": true},
      "encoding": {
        "x": {"field": "ep", "type": "quantitative", "scale": {"domain": [-20, 420], "nice": false, "zero": false}, "axis": {"values": [0,50,100,150,200,250,300,350,400], "title": null}},
        "y": {"field": "v", "type": "quantitative", "scale": {"domain": [5221, 6084], "nice": false, "zero": false}, "axis": {"values": [5250,5500,5750,6000], "format": "d", "title": "Rewards"}},
        "color": {"field": "s", "type": "nominal", "scale": {"domain": ["TD3_ep","TD3_avg","DDPG_ep","DDPG_avg"], "range": ["#4C72B0","#DD8452","#55A868","#C44E52"]},
          "legend": {"orient": "bottom-right", "labelExpr": "datum.label=='TD3_ep'?'PSD-TD3, Episode reward':datum.label=='TD3_avg'?'PSD-TD3, Average reward':datum.label=='DDPG_ep'?'PSD-DDPG, Episode reward':'PSD-DDPG, Average reward'"}},
        "strokeDash": {"field": "s", "type": "nominal", "scale": {"domain": ["TD3_ep","TD3_avg","DDPG_ep","DDPG_avg"], "range": [[1,0],[9,4],[11,3,2,3],[2,3]]},
          "legend": {"orient": "bottom-right", "labelExpr": "datum.label=='TD3_ep'?'PSD-TD3, Episode reward':datum.label=='TD3_avg'?'PSD-TD3, Average reward':datum.label=='DDPG_ep'?'PSD-DDPG, Episode reward':'PSD-DDPG, Average reward'"}}
      }
    },
    {
      "width": 522, "height": 129,
      "title": {"text": "𝑁 = 60"},
      "data": {"name": "p2"},
      "mark": {"type": "line", "strokeWidth": 2, "clip": true},
      "encoding": {
        "x": {"field": "ep", "type": "quantitative", "scale": {"domain": [-20, 420], "nice": false, "zero": false}, "axis": {"values": [0,50,100,150,200,250,300,350,400], "title": null}},
        "y": {"field": "v", "type": "quantitative", "scale": {"domain": [5336, 7058], "nice": false, "zero": false}, "axis": {"values": [5500,6000,6500,7000], "format": "d", "title": "Rewards"}},
        "color": {"field": "s", "type": "nominal", "scale": {"domain": ["TD3_ep","TD3_avg","DDPG_ep","DDPG_avg"], "range": ["#4C72B0","#DD8452","#55A868","#C44E52"]},
          "legend": {"orient": "bottom-right", "labelExpr": "datum.label=='TD3_ep'?'PSD-TD3, Episode reward':datum.label=='TD3_avg'?'PSD-TD3, Episode reward':datum.label=='DDPG_ep'?'PSD-DDPG, Episode reward':'PSD-DDPG, Average reward'"}},
        "strokeDash": {"field": "s", "type": "nominal", "scale": {"domain": ["TD3_ep","TD3_avg","DDPG_ep","DDPG_avg"], "range": [[1,0],[9,4],[11,3,2,3],[2,3]]},
          "legend": {"orient": "bottom-right", "labelExpr": "datum.label=='TD3_ep'?'PSD-TD3, Episode reward':datum.label=='TD3_avg'?'PSD-TD3, Episode reward':datum.label=='DDPG_ep'?'PSD-DDPG, Episode reward':'PSD-DDPG, Average reward'"}}
      }
    },
    {
      "width": 522, "height": 129,
      "title": {"text": "𝑁 = 80"},
      "data": {"name": "p3"},
      "mark": {"type": "line", "strokeWidth": 2, "clip": true},
      "encoding": {
        "x": {"field": "ep", "type": "quantitative", "scale": {"domain": [-20, 420], "nice": false, "zero": false}, "axis": {"values": [0,50,100,150,200,250,300,350,400], "title": null}},
        "y": {"field": "v", "type": "quantitative", "scale": {"domain": [5388, 7847], "nice": false, "zero": false}, "axis": {"values": [6000,7000], "format": "d", "title": "Rewards"}},
        "color": {"field": "s", "type": "nominal", "scale": {"domain": ["TD3_ep","TD3_avg","DDPG_ep","DDPG_avg"], "range": ["#4C72B0","#DD8452","#55A868","#C44E52"]},
          "legend": {"orient": "bottom-right", "labelExpr": "datum.label=='TD3_ep'?'PSD-TD3, Episode reward':datum.label=='TD3_avg'?'PSD-TD3, Episode reward':datum.label=='DDPG_ep'?'PSD-DDPG, Episode reward':'PSD-DDPG, Average reward'"}},
        "strokeDash": {"field": "s", "type": "nominal", "scale": {"domain": ["TD3_ep","TD3_avg","DDPG_ep","DDPG_avg"], "range": [[1,0],[9,4],[11,3,2,3],[2,3]]},
          "legend": {"orient": "bottom-right", "labelExpr": "datum.label=='TD3_ep'?'PSD-TD3, Episode reward':datum.label=='TD3_avg'?'PSD-TD3, Episode reward':datum.label=='DDPG_ep'?'PSD-DDPG, Episode reward':'PSD-DDPG, Average reward'"}}
      }
    },
    {
      "width": 522, "height": 130,
      "title": {"text": "𝑁 = 40"},
      "data": {"name": "p4"},
      "mark": {"type": "line", "strokeWidth": 2, "clip": true},
      "encoding": {
        "x": {"field": "ep", "type": "quantitative", "scale": {"domain": [-175, 3675], "nice": false, "zero": false}, "axis": {"values": [0,500,1000,1500,2000,2500,3000,3500], "format": "d", "title": null}},
        "y": {"field": "v", "type": "quantitative", "scale": {"domain": [-218800, 10000], "nice": false, "zero": false}, "axis": {"values": [-200000,-100000,0], "format": "d", "title": "Rewards"}},
        "color": {"field": "s", "type": "nominal", "scale": {"domain": ["ep","avg"], "range": ["#4C72B0","#DD8452"]},
          "legend": {"orient": "bottom-right", "labelExpr": "datum.label=='ep'?'DQN-TD3, Episode reward':'DQN-TD3, Average reward'"}},
        "strokeDash": {"field": "s", "type": "nominal", "scale": {"domain": ["ep","avg"], "range": [[1,0],[9,4]]},
          "legend": {"orient": "bottom-right", "labelExpr": "datum.label=='ep'?'DQN-TD3, Episode reward':'DQN-TD3, Average reward'"}}
      }
    },
    {
      "width": 522, "height": 128,
      "data": {"name": "p5"},
      "mark": {"type": "line", "strokeWidth": 2, "clip": true},
      "encoding": {
        "x": {"field": "ep", "type": "quantitative", "scale": {"type": "log", "domain": [0.662, 5200], "nice": false}, "axis": {"values": [1,10,100,1000], "title": "Episodes", "labelExpr": "datum.value==1?'10⁰':datum.value==10?'10¹':datum.value==100?'10²':'10³'"}},
        "y": {"field": "v", "type": "quantitative", "scale": {"type": "log", "domain": [0.55, 275000], "nice": false}, "axis": {"values": [10,1000,100000], "title": "Power", "labelExpr": "datum.value==10?'10¹':datum.value==1000?'10³':'10⁵'"}},
        "color": {"field": "s", "type": "nominal", "scale": {"domain": ["tot","max"], "range": ["#4C72B0","#DD8452"]},
          "legend": {"orient": "top-left", "labelExpr": "datum.label=='tot'?'DQN-TD3, Total power':'DQN-TD3, Maxmium power'"}},
        "strokeDash": {"field": "s", "type": "nominal", "scale": {"domain": ["tot","max"], "range": [[1,0],[9,4]]},
          "legend": {"orient": "top-left", "labelExpr": "datum.label=='tot'?'DQN-TD3, Total power':'DQN-TD3, Maxmium power'"}}
      }
    }
  ]
}
